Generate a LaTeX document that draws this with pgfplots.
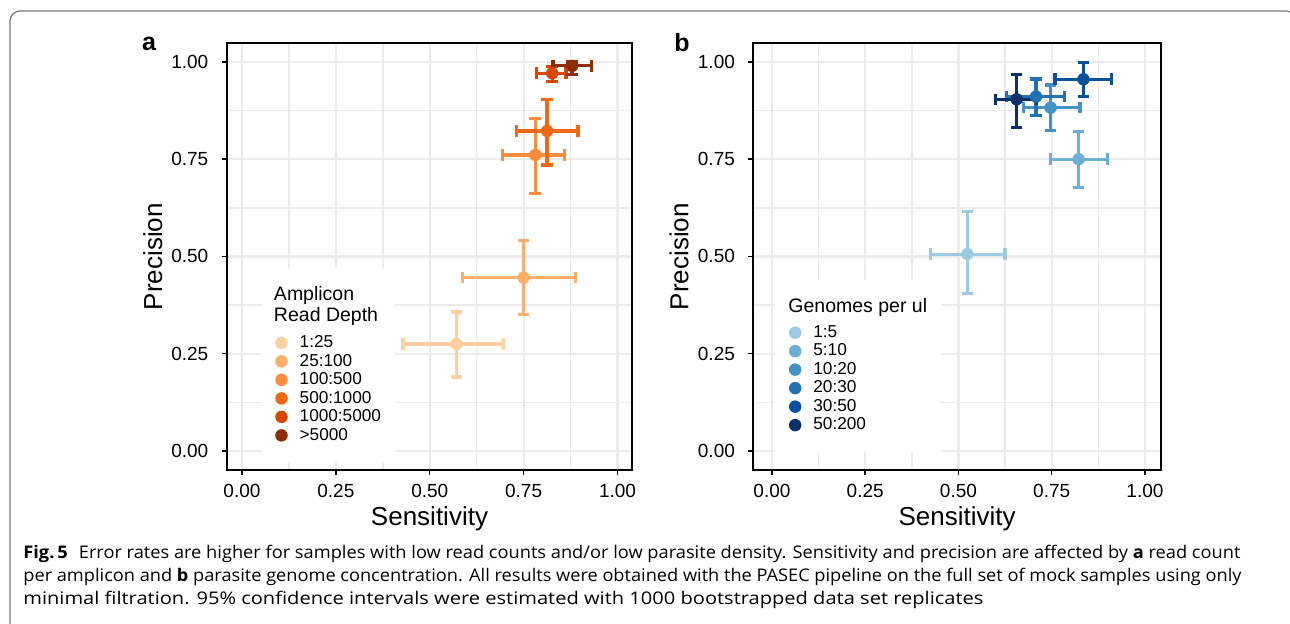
\documentclass[border=0pt]{standalone}
\usepackage{fontspec}
\setmainfont{Liberation Sans}
\newfontfamily\capfont{Open Sans}
\usepackage{graphicx}
\usepackage{pgfplots}
\pgfplotsset{compat=1.18}

\definecolor{gridc}{HTML}{EBEBEB}
\definecolor{oA}{HTML}{FDD0A2}
\definecolor{oB}{HTML}{FDAE6B}
\definecolor{oC}{HTML}{FD8D3C}
\definecolor{oD}{HTML}{F16913}
\definecolor{oE}{HTML}{D94801}
\definecolor{oF}{HTML}{8C2D04}
\definecolor{bA}{HTML}{9ECAE1}
\definecolor{bB}{HTML}{6BAED6}
\definecolor{bC}{HTML}{4292C6}
\definecolor{bD}{HTML}{2171B5}
\definecolor{bE}{HTML}{08519C}
\definecolor{bF}{HTML}{08306B}
\definecolor{framec}{HTML}{777777}

\pgfplotsset{
  panel/.style={
    scale only axis, anchor=north west,
    height=213.35pt,
    ymin=-0.049, ymax=1.048,
    xtick={0,0.25,0.5,0.75,1}, ytick={0,0.25,0.5,0.75,1},
    xticklabels={0.00,0.25,0.50,0.75,1.00},
    yticklabels={0.00,0.25,0.50,0.75,1.00},
    minor xtick={0.125,0.375,0.625,0.875},
    minor ytick={0.125,0.375,0.625,0.875},
    grid=both,
    major grid style={gridc, line width=1.1pt},
    minor grid style={gridc, line width=0.8pt},
    axis line style={black, line width=0.85pt},
    tick pos=left, tick align=outside,
    major tick length=2.5pt, minor tick length=0pt,
    every tick/.style={black, line width=0.75pt},
    /pgf/number format/assume math mode=true,
    ticklabel style={font=\fontsize{9.5}{11}\selectfont, black, inner sep=0pt},
    xticklabel style={anchor=north, yshift=-4.6pt},
    yticklabel style={anchor=east, xshift=-6.5pt},
    xlabel=Sensitivity, ylabel=Precision,
    label style={font=\fontsize{13}{15}\selectfont},
    xlabel style={at={(axis description cs:0.5,-0.115)}, anchor=center},
    ylabel style={at={(axis description cs:-0.182,0.5)}, anchor=center},
    legend cell align=left,
    legend image code/.code={\draw[##1] plot coordinates {(0pt,0pt)};},
    legend style={draw=none, fill=white, inner xsep=7pt, inner ysep=8.8pt,
      anchor=north west, row sep=0pt,
      nodes={inner sep=0pt, text depth=},
      font=\fontsize{8.6}{9.25}\selectfont,
      /tikz/every odd column/.append style={column sep=6.2pt}},
  },
  eb/.style={forget plot, mark=none, color=#1,
    error bars/.cd, x dir=both, x explicit, y dir=both, y explicit,
    error bar style={line width=1.6pt, #1},
    error mark options={rotate=90, line width=1.6pt, mark size=2.9pt, #1},
    /pgfplots/.cd},
  pt/.style={only marks, mark=*, mark size=2.9pt, color=#1,
    mark options={draw=none, fill=#1}},
}

\newcommand{\es}{\rule[-2.2pt]{0pt}{9.25pt}}
\newcommand{\capsize}{\capfont\fontsize{8.7}{10}\selectfont}
\newcommand{\lineone}{\textbf{Fig.\,5}\hspace{0.6em}Error rates are higher for samples with low read counts and/or low parasite density. Sensitivity and precision are affected by \textbf{a} read count}
\newcommand{\linetwo}{per amplicon and \textbf{b} parasite genome concentration. All results were obtained with the PASEC pipeline on the full set of mock samples using only}
\newcommand{\linethree}{minimal filtration. 95\% confidence intervals were estimated with 1000 bootstrapped data set replicates}

\begin{document}
\begin{tikzpicture}[x=1pt,y=1pt]
\useasboundingbox (0,0) rectangle (645,-312);
\draw[framec, line width=0.6pt, rounded corners=5pt] (5,-5.5) rectangle (648,-318);

\node[font=\bfseries\fontsize{12.5}{14}\selectfont] at (74.5,-21.9) {a};
\node[font=\bfseries\fontsize{12.5}{14}\selectfont] at (341,-21.2) {b};

% Panel a
\begin{axis}[panel, at={(113.35pt,-21.65pt)}, width=202.8pt,
  xmin=-0.0407, xmax=1.0394,
  legend style={at={(rel axis cs:0.0853,0.474)}}]
\addplot[eb=oA] coordinates {(0.571,0.275) += (0.125,0.082) -= (0.142,0.085)};
\addplot[eb=oB] coordinates {(0.750,0.4455) += (0.139,0.0955) -= (0.1625,0.0945)};
\addplot[eb=oC] coordinates {(0.781,0.761) += (0.078,0.094) -= (0.087,0.099)};
\addplot[eb=oD] coordinates {(0.8125,0.8226) += (0.0825,0.0814) -= (0.0825,0.0876)};
\addplot[eb=oE] coordinates {(0.826,0.971) += (0.037,0.017) -= (0.042,0.022)};
\addplot[eb=oF] coordinates {(0.879,0.990) += (0.052,0.010) -= (0.051,0.023)};
\addlegendimage{empty legend}
\addlegendentry{\hspace*{-12.85pt}\fontsize{9.75}{10.5}\selectfont\begin{tabular}[b]{@{}l@{}}Amplicon\\Read Depth\end{tabular}\rule[-6.1pt]{0pt}{6.1pt}}
\addplot[pt=oA] coordinates {(0.571,0.275)};
\addlegendentry{\es 1:25}
\addplot[pt=oB] coordinates {(0.750,0.4455)};
\addlegendentry{\es 25:100}
\addplot[pt=oC] coordinates {(0.781,0.761)};
\addlegendentry{\es 100:500}
\addplot[pt=oD] coordinates {(0.8125,0.8226)};
\addlegendentry{\es 500:1000}
\addplot[pt=oE] coordinates {(0.826,0.971)};
\addlegendentry{\es 1000:5000}
\addplot[pt=oF] coordinates {(0.879,0.990)};
\addlegendentry{\es >5000}
\end{axis}

% Panel b
\begin{axis}[panel, at={(376.65pt,-21.65pt)}, width=203.85pt,
  xmin=-0.050, xmax=1.043,
  legend style={at={(rel axis cs:0.0532,0.446)}}]
\addplot[eb=bA] coordinates {(0.524,0.506) += (0.101,0.109) -= (0.099,0.101)};
\addplot[eb=bB] coordinates {(0.822,0.750) += (0.077,0.071) -= (0.075,0.072)};
\addplot[eb=bC] coordinates {(0.747,0.8826) += (0.079,0.0584) -= (0.073,0.0596)};
\addplot[eb=bD] coordinates {(0.708,0.911) += (0.076,0.045) -= (0.079,0.049)};
\addplot[eb=bE] coordinates {(0.835,0.9555) += (0.076,0.0425) -= (0.076,0.0445)};
\addplot[eb=bF] coordinates {(0.656,0.904) += (0.054,0.063) -= (0.056,0.072)};
\addlegendimage{empty legend}
\addlegendentry{\hspace*{-12.5pt}\fontsize{9.75}{10.5}\selectfont\begin{tabular}[b]{@{}l@{}}Genomes per ul\end{tabular}\rule[-5.5pt]{0pt}{5.5pt}}
\addplot[pt=bA] coordinates {(0.524,0.506)};
\addlegendentry{\es 1:5}
\addplot[pt=bB] coordinates {(0.822,0.750)};
\addlegendentry{\es 5:10}
\addplot[pt=bC] coordinates {(0.747,0.8826)};
\addlegendentry{\es 10:20}
\addplot[pt=bD] coordinates {(0.708,0.911)};
\addlegendentry{\es 20:30}
\addplot[pt=bE] coordinates {(0.835,0.9555)};
\addlegendentry{\es 30:50}
\addplot[pt=bF] coordinates {(0.656,0.904)};
\addlegendentry{\es 50:200}
\end{axis}

% Caption
\node[anchor=base west, inner sep=0pt] at (11.5,-279.2) {\resizebox{608.5pt}{\height}{\capsize\lineone}};
\node[anchor=base west, inner sep=0pt] at (11.5,-290.9) {\resizebox{609pt}{\height}{\capsize\linetwo}};
\node[anchor=base west, inner sep=0pt] at (11.5,-302.5) {\resizebox{480pt}{\height}{\capsize\linethree}};
\end{tikzpicture}
\end{document}
